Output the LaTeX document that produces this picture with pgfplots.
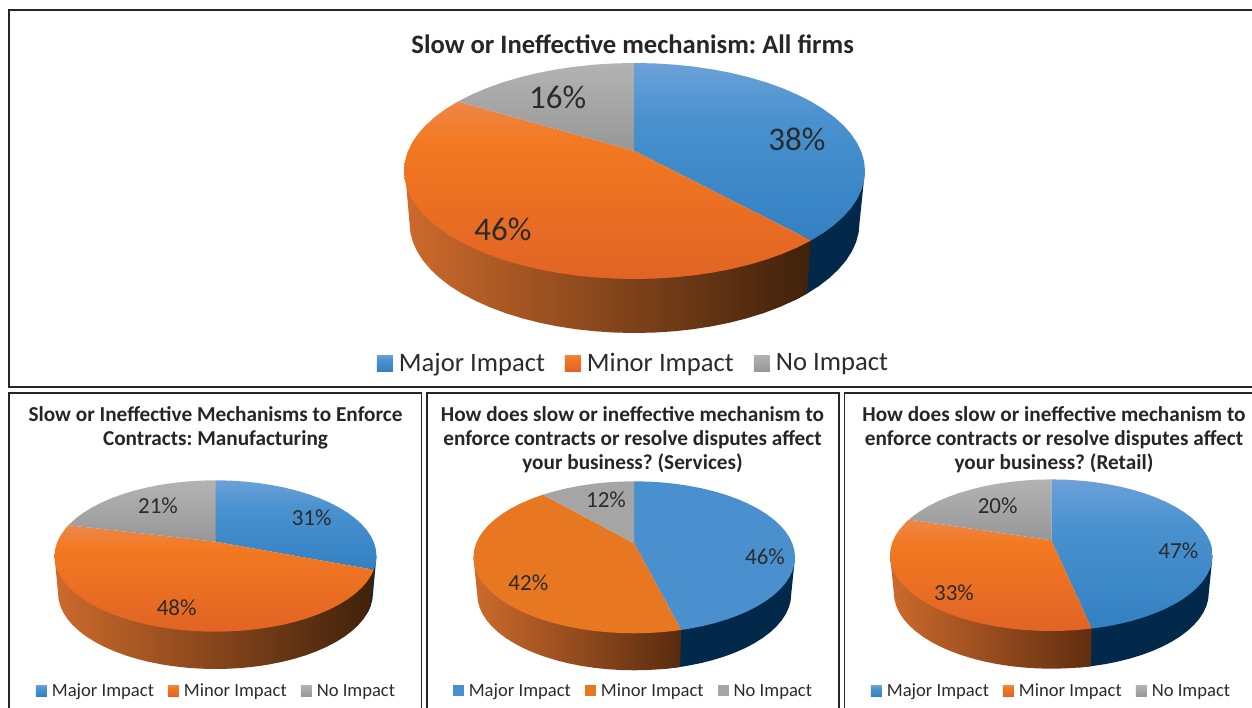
\documentclass[border=0pt]{standalone}
\usepackage{pgfplots}
\pgfplotsset{compat=1.18}
\usepackage{fontspec}
\setmainfont{Carlito}
% unit ellipse points: angle clockwise from the top, (sin, cos)
\newcommand\U[3]{\expandafter\gdef\csname u#1\endcsname{(#2,#3)}}
\U{0}{0}{1}\U{5}{.0872}{.9962}\U{10}{.1736}{.9848}\U{15}{.2588}{.9659}\U{20}{.3420}{.9397}\U{25}{.4226}{.9063}
\U{30}{.5}{.8660}\U{35}{.5736}{.8192}\U{40}{.6428}{.7660}\U{45}{.7071}{.7071}\U{50}{.7660}{.6428}\U{55}{.8192}{.5736}
\U{60}{.8660}{.5}\U{65}{.9063}{.4226}\U{70}{.9397}{.3420}\U{75}{.9659}{.2588}\U{80}{.9848}{.1736}\U{85}{.9962}{.0872}
\U{90}{1}{0}\U{95}{.9962}{-.0872}\U{100}{.9848}{-.1736}\U{105}{.9659}{-.2588}\U{110}{.9397}{-.3420}\U{115}{.9063}{-.4226}
\U{120}{.8660}{-.5}\U{125}{.8192}{-.5736}\U{130}{.7660}{-.6428}\U{135}{.7071}{-.7071}\U{140}{.6428}{-.7660}\U{145}{.5736}{-.8192}
\U{150}{.5}{-.8660}\U{155}{.4226}{-.9063}\U{160}{.3420}{-.9397}\U{165}{.2588}{-.9659}\U{170}{.1736}{-.9848}\U{175}{.0872}{-.9962}
\U{180}{0}{-1}\U{185}{-.0872}{-.9962}\U{190}{-.1736}{-.9848}\U{195}{-.2588}{-.9659}\U{200}{-.3420}{-.9397}\U{205}{-.4226}{-.9063}
\U{210}{-.5}{-.8660}\U{215}{-.5736}{-.8192}\U{220}{-.6428}{-.7660}\U{225}{-.7071}{-.7071}\U{230}{-.7660}{-.6428}\U{235}{-.8192}{-.5736}
\U{240}{-.8660}{-.5}\U{245}{-.9063}{-.4226}\U{250}{-.9397}{-.3420}\U{255}{-.9659}{-.2588}\U{260}{-.9848}{-.1736}\U{265}{-.9962}{-.0872}
\U{270}{-1}{0}\U{275}{-.9962}{.0872}\U{280}{-.9848}{.1736}\U{285}{-.9659}{.2588}\U{290}{-.9397}{.3420}\U{295}{-.9063}{.4226}
\U{300}{-.8660}{.5}\U{305}{-.8192}{.5736}\U{310}{-.7660}{.6428}\U{315}{-.7071}{.7071}\U{320}{-.6428}{.7660}\U{325}{-.5736}{.8192}
\U{330}{-.5}{.8660}\U{335}{-.4226}{.9063}\U{340}{-.3420}{.9397}\U{345}{-.2588}{.9659}\U{350}{-.1736}{.9848}\U{355}{-.0872}{.9962}
\U{360}{0}{1}
\newcount\arcn
\newcommand\buildarc[2]{\gdef\thearc{}\arcn=#1\relax
  \loop\ifnum\arcn<#2\relax\xdef\thearc{\thearc\csname u\the\arcn\endcsname}\advance\arcn by 5\relax\repeat
  \xdef\thearc{\thearc\csname u#2\endcsname}}
% \piece{options}{points before}{from}{to}{points after}
\newcommand\piece[5]{\buildarc{#3}{#4}%
  \edef\doit{\noexpand\addplot[forget plot,no markers,draw=none,\unexpanded{#1}] coordinates {#2 \thearc #5};}\doit}
% colours
\definecolor{tb1}{HTML}{6CA1D8}\definecolor{tb2}{HTML}{4A92CF}\definecolor{tb3}{HTML}{3380C2}
\definecolor{to1}{HTML}{EE8749}\definecolor{to2}{HTML}{F27921}\definecolor{to3}{HTML}{E16425}
\definecolor{tg1}{HTML}{B3B3B3}\definecolor{tg2}{HTML}{A6A6A6}\definecolor{tg3}{HTML}{979797}
\definecolor{sb}{HTML}{4A90CE}\definecolor{so}{HTML}{E87722}\definecolor{sg}{HTML}{A5A5A5}
\definecolor{wb}{HTML}{02294A}\definecolor{ink}{HTML}{2B2B2B}
\definecolor{wo1}{HTML}{CD6A2C}\definecolor{wo2}{HTML}{873A1B}\definecolor{wo3}{HTML}{3F210B}
\definecolor{ws2}{HTML}{914420}\definecolor{ws3}{HTML}{582C0F}
\definecolor{wr2}{HTML}{96441E}\definecolor{wr3}{HTML}{602E10}
\pgfdeclareverticalshading{shblue}{100bp}{color(0bp)=(tb3); color(25bp)=(tb3); color(60bp)=(tb2); color(75bp)=(tb1); color(100bp)=(tb1)}
\pgfdeclareverticalshading{shorange}{100bp}{color(0bp)=(to3); color(25bp)=(to3); color(64bp)=(to2); color(75bp)=(to1); color(100bp)=(to1)}
\tikzset{
  BLUE/.style={shading=shblue},
  ORANGE/.style={shading=shorange},
  GRAY/.style={top color=tg1,middle color=tg2,bottom color=tg3},
  FBLUE/.style={fill=sb},FORANGE/.style={fill=so},FGRAY/.style={fill=sg},
}
\pgfplotsset{
  pie/.style={hide axis,scale only axis,clip=false,anchor=center,xmin=-1,xmax=1,ymin=-1,ymax=1},
  biglegend/.style={legend columns=3,
    legend image code/.code={\path[draw=none,##1,draw=none] (0pt,-8pt) rectangle (16pt,8pt);},
    legend style={draw=none,fill=none,inner sep=0pt,font=\fontsize{26.6}{30}\selectfont\color{ink},
      nodes={inner sep=0pt},
      /tikz/every odd column/.append style={column sep=6pt},
      /tikz/every even column/.append style={column sep=20pt}}},
  smalllegend/.style={legend columns=3,
    legend image code/.code={\path[draw=none,##1,draw=none] (0pt,-5.5pt) rectangle (11pt,5.5pt);},
    legend style={draw=none,fill=none,inner sep=0pt,font=\fontsize{18.6}{22}\selectfont\color{ink},
      nodes={inner sep=0pt},
      /tikz/every odd column/.append style={column sep=5pt},
      /tikz/every even column/.append style={column sep=14pt}}},
}
\newcommand\legendthree[3]{\addlegendimage{#1}\addlegendentry{Major Impact}\addlegendimage{#2}\addlegendentry{Minor Impact}\addlegendimage{#3}\addlegendentry{No Impact}}
\newcommand\T[4]{\node[text=ink,font=\fontsize{#3}{#3}\selectfont,inner sep=0pt] at ({#1},{707-#2}) {#4};}
\newcommand\TT[3]{\node[text=black!85,align=center,inner sep=0pt,font=\bfseries\fontsize{21.25}{24}\selectfont,anchor=north] at ({#1},{707-#2}) {#3};}
\begin{document}
\frenchspacing
\begin{tikzpicture}[x=1pt,y=1pt]
\path[use as bounding box] (0,0) rectangle (1252,707);
% ---------- All firms
\begin{axis}[pie,at={(634.5pt,484pt)},width=450pt,height=220pt]
\piece{fill=wb}{(1.024,.473)}{90}{135}{(.72,-.17)}
\piece{left color=wo1,middle color=wo2,right color=wo3}{}{130}{270}{(-1.02,.473) (.784,-.158)}
\end{axis}
\begin{axis}[pie,at={(634.5pt,536pt)},width=461pt,height=216pt,biglegend,legend style={at={(axis cs:-.009,-1.778)},anchor=center}]
\piece{BLUE}{(0,.185)}{0}{130}{(0,.185)}
\piece{ORANGE}{(0,.185)}{130}{310}{(0,.185)}
\piece{GRAY}{(0,.185)}{310}{360}{(0,.185)}
\legendthree{BLUE}{ORANGE}{GRAY}
\end{axis}
% ---------- Manufacturing
\begin{axis}[pie,at={(215.5pt,114pt)},width=315pt,height=152pt]
\piece{fill=wb}{(1.022,.487)}{90}{105}{(.97,.29)}
\piece{left color=wo1,middle color=wo2,right color=wo3}{}{100}{270}{(-1.022,.487) (1.006,.303)}
\end{axis}
\begin{axis}[pie,at={(215.5pt,151pt)},width=322pt,height=151.4pt,smalllegend,legend style={at={(axis cs:0,-1.783)},anchor=center}]
\piece{BLUE}{(0,.189)}{0}{100}{(.9833,-.1822) (0,.189)}
\piece{ORANGE}{(0,.189) (.9833,-.1822)}{105}{290}{(-.9135,.4067) (0,.189)}
\piece{GRAY}{(0,.189) (-.9135,.4067)}{295}{360}{(0,.189)}
\legendthree{BLUE}{ORANGE}{GRAY}
\end{axis}
% ---------- Services
\begin{axis}[pie,at={(634.2pt,112.7pt)},width=314pt,height=152pt]
\piece{fill=wb}{(1.024,.487)}{90}{170}{(.27,-.470)}
\piece{left color=wo1,middle color=ws2,right color=ws3}{(.2924,-.9563)}{165}{270}{(-1.024,.487) (.298,-.470)}
\end{axis}
\begin{axis}[pie,at={(634.2pt,149.7pt)},width=321.6pt,height=152pt,smalllegend,legend style={at={(axis cs:-.011,-1.759)},anchor=center}]
\piece{FBLUE}{(0,.184)}{0}{160}{(.2924,-.9563) (0,.184)}
\piece{FORANGE}{(0,.184) (.2924,-.9563)}{165}{325}{(-.5678,.8231) (0,.184)}
\piece{FGRAY}{(0,.184) (-.5678,.8231)}{330}{360}{(0,.184)}
\legendthree{FBLUE}{FORANGE}{FGRAY}
\end{axis}
% ---------- Retail
\begin{axis}[pie,at={(1051.3pt,114.3pt)},width=315pt,height=152pt]
\piece{fill=wb}{(1.024,.493)}{90}{170}{(.22,-.468)}
\piece{left color=wo1,middle color=wr2,right color=wr3}{(.2504,-.9681)}{170}{270}{(-1.024,.493) (.2565,-.468)}
\end{axis}
\begin{axis}[pie,at={(1051.3pt,151.8pt)},width=322.6pt,height=151.6pt,smalllegend,legend style={at={(axis cs:-.005,-1.792)},anchor=center}]
\piece{BLUE}{(0,.197)}{0}{165}{(.2504,-.9681) (0,.197)}
\piece{ORANGE}{(0,.197) (.2504,-.9681)}{170}{295}{(-.8829,.4695) (0,.197)}
\piece{GRAY}{(0,.197) (-.8829,.4695)}{300}{360}{(0,.197)}
\legendthree{BLUE}{ORANGE}{GRAY}
\end{axis}
% ---------- data labels
\T{557.7}{97}{33}{16\%}\T{797}{139}{33}{38\%}\T{503}{229}{33}{46\%}
\T{158}{505.7}{23}{21\%}\T{311.7}{517.7}{23}{31\%}\T{176.7}{607.3}{23}{48\%}
\T{606}{500}{23}{12\%}\T{765}{556.7}{23}{46\%}\T{528.3}{582.7}{23}{42\%}
\T{997.7}{505.7}{23}{20\%}\T{1178.3}{550.7}{23}{47\%}\T{954}{592.3}{23}{33\%}
% ---------- titles
\node[text=black!85,inner sep=0pt,font=\bfseries\fontsize{26.6}{30}\selectfont] at (632.7,663) {Slow or Ineffective mechanism: All firms};
\TT{215.5}{406.5}{Slow or Ineffective Mechanisms to Enforce\\Contracts: Manufacturing}
\TT{632.5}{406.5}{How does slow or ineffective mechanism to\\enforce contracts or resolve disputes affect\\your business? (Services)}
\TT{1054}{406.5}{How does slow or ineffective mechanism to\\enforce contracts or resolve disputes affect\\your business? (Retail)}
% ---------- frames
\draw[line width=1.8pt,black!85] (1262,697) -- (9,697) -- (9,320) -- (1262,320);
\draw[line width=1.8pt,black!85] (9,-10) -- (9,313.7) -- (421.5,313.7) -- (421.5,-10);
\draw[line width=1.8pt,black!85] (426.7,-10) -- (426.7,313.7) -- (839.3,313.7) -- (839.3,-10);
\draw[line width=1.8pt,black!85] (844.5,-10) -- (844.5,313.7) -- (1262,313.7);
\end{tikzpicture}
\end{document}
